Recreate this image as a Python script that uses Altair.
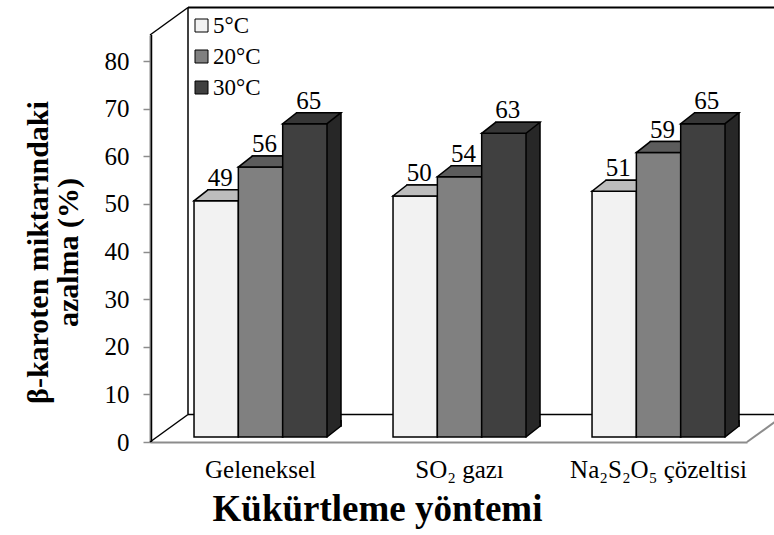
import altair as alt
import pandas as pd

# ---- data -------------------------------------------------------------
methods = ["Geleneksel", "SO₂ gazı", "Na₂S₂O₅ çözeltisi"]
temps = ["5°C", "20°C", "30°C"]
loss_5 = [49, 50, 51]
loss_20 = [56, 54, 59]
loss_30 = [65, 63, 65]
y_ticks = [0, 10, 20, 30, 40, 50, 60, 70, 80]

front_colors = ["#f2f2f2", "#808080", "#404040"]
top_colors = ["#bdbdbd", "#5c5c5c", "#363636"]
side_colors = ["#a6a6a6", "#4a4a4a", "#272727"]

rows = []
for t, vals in zip(temps, [loss_5, loss_20, loss_30]):
    for m, v in zip(methods, vals):
        rows.append({"method": m, "temp": t, "value": v})
df = pd.DataFrame(rows)
one = pd.DataFrame({"k": [0]})

# ---- layout / style ---------------------------------------------------
FONT = "Liberation Serif"
W, H = 597, 407
PAD = {"left": 150, "top": 35, "right": 27, "bottom": 93}

# group band scale
P_INNER, P_OUTER, ALIGN = 0.3317, 0.1658, 0.667
STEP = W / (len(methods) - P_INNER + 2 * P_OUTER)
GROUP_W = STEP * (1 - P_INNER)
BAR_W = GROUP_W / len(temps)

# 3-D depth of bars and of the chart walls (pixels)
BX, BY = 14, -11
WX, WY = 38, -27.5

# front (axis) plane and bar plane vertical scales
FRONT_MAX = H / 4.7625
BAR_PPU, BAR_LIFT = 4.82, 5
BAR_DOMAIN = [-BAR_LIFT / BAR_PPU, (H - BAR_LIFT) / BAR_PPU]

EDGE = 1.5

x_axis = alt.Axis(
    title="Kükürtleme yöntemi", titleFont=FONT, titleFontSize=37,
    titleFontWeight="bold", titleColor="black", titleX=227, titleY=78,
    titleAlign="center", titleBaseline="alphabetic", titleAnchor="start",
    labelFont=FONT, labelFontSize=25, labelColor="black", labelAngle=0,
    labelPadding=15, ticks=False, domainColor="#8c8c8c",
    domainWidth=2, grid=False,
)
X = alt.X("method:N", sort=methods, axis=x_axis,
          scale=alt.Scale(domain=methods, paddingInner=P_INNER,
                          paddingOuter=P_OUTER, align=ALIGN))


def offset_enc(shift=0):
    return alt.XOffset("temp:N", sort=temps,
                       scale=alt.Scale(type="band", domain=temps, paddingInner=0,
                                       paddingOuter=0,
                                       range=[shift, GROUP_W + shift]))


XO = offset_enc()
XO_BACK = offset_enc(BX)
bar_scale = alt.Scale(domain=BAR_DOMAIN, nice=False, zero=False)
YB = alt.Y("value:Q", scale=bar_scale, axis=None)
Y0 = alt.Y(datum=0, scale=bar_scale, axis=None)

legend = alt.Legend(
    title=None, orient="none", legendX=40, legendY=-21,
    labelFont=FONT, labelFontSize=23, labelColor="black", labelOffset=0,
    symbolType="square", symbolSize=169, symbolStrokeColor="black",
    symbolStrokeWidth=1, rowPadding=7, padding=0,
)
COLOR = alt.Color("temp:N", sort=temps,
                  scale=alt.Scale(domain=temps, range=front_colors), legend=legend)

hw = BAR_W / 2
top_path = f"M{-hw},0L{hw},0L{hw + BX},{BY}L{-hw + BX},{BY}Z"
bottom_fill_path = f"M{hw - 1},1L{hw - 1},{BY - 3}L{hw + BX},{BY - 3}L{hw + BX},{BY}Z"
bottom_edge_path = f"M{hw},0L{hw + BX},{BY}L{hw + BX},{BY - 6}"


def segment(x1, y1, x2, y2, color="black", width=EDGE):
    return alt.Chart(one).mark_rule(color=color, strokeWidth=width).encode(
        x=alt.value(x1), y=alt.value(y1), x2=alt.value(x2), y2=alt.value(y2)
    )


# ---- back wall and floor ---------------------------------------------
walls = [
    segment(WX, WY, W + WX + 40, WY, width=2),          # wall top
    segment(WX, WY, WX, H + WY),                        # wall left
    segment(WX, H + WY, W + WX + 40, H + WY),           # wall foot
    segment(0, 0, WX, WY),                              # side wall top
    segment(0, H, WX, H + WY),                          # side wall foot
    segment(W, H, W + WX, H + WY, color="#8c8c8c", width=2),  # floor right
]

# ---- 3-D bars -----------------------------------------------------------
bars = []
for i, t in enumerate(temps):
    base = alt.Chart(df).transform_filter(alt.datum.temp == t)
    back = base.mark_bar(fill=side_colors[i], stroke="black", strokeWidth=EDGE,
                         yOffset=BY, y2Offset=BY).encode(x=X, xOffset=XO_BACK, y=YB)
    foot_fill = base.mark_point(shape=bottom_fill_path, size=4, filled=True,
                                color=side_colors[i], strokeWidth=0,
                                opacity=1).encode(x=X, xOffset=XO, y=Y0)
    foot_edge = base.mark_point(shape=bottom_edge_path, size=4, filled=False,
                                color="black", strokeWidth=EDGE,
                                opacity=1).encode(x=X, xOffset=XO, y=Y0)
    front = base.mark_bar(stroke="black", strokeWidth=EDGE).encode(
        x=X, xOffset=XO, y=YB, color=COLOR)
    top = base.mark_point(shape=top_path, size=4, filled=True, fill=top_colors[i],
                          stroke="black", strokeWidth=EDGE,
                          opacity=1).encode(x=X, xOffset=XO, y=YB)
    bars += [back, foot_fill, foot_edge, front, top]

labels = alt.Chart(df).mark_text(
    font=FONT, fontSize=25, color="black", align="center",
    baseline="alphabetic", dx=4, dy=BY - 4,
).encode(x=X, xOffset=XO, y=YB, text="value:Q")

# ---- front edge carrying the value axis -------------------------------
y_axis = alt.Axis(
    values=y_ticks, grid=False,
    title=["β-karoten miktarındaki", "azalma (%)"], titleFont=FONT,
    titleFontSize=30, titleFontWeight="bold", titleColor="black",
    titleAngle=-90, titleAlign="center", titleBaseline="middle",
    titleX=-112, titleY=217, titleLineHeight=30,
    labelFont=FONT, labelFontSize=25, labelColor="black", labelPadding=14,
    tickSize=7, tickColor="#8c8c8c", tickWidth=1.5,
    domainColor="#8c8c8c", domainWidth=2,
)
front_edge = alt.Chart(one).mark_rule(color="black", strokeWidth=EDGE).encode(
    x=alt.value(1.5),
    y=alt.Y(datum=0, scale=alt.Scale(domain=[0, FRONT_MAX], nice=False, zero=False),
            axis=y_axis),
    y2=alt.Y2(datum=FRONT_MAX),
)

chart = (
    alt.layer(*walls, *bars, labels, front_edge)
    .resolve_scale(y="independent", xOffset="independent")
    .properties(width=W, height=H, padding=PAD,
                autosize=alt.AutoSizeParams(type="none"), background="white")
    .configure_view(stroke=None)
)

chart.save("out.html", embed_options={"renderer": "svg", "actions": False})
